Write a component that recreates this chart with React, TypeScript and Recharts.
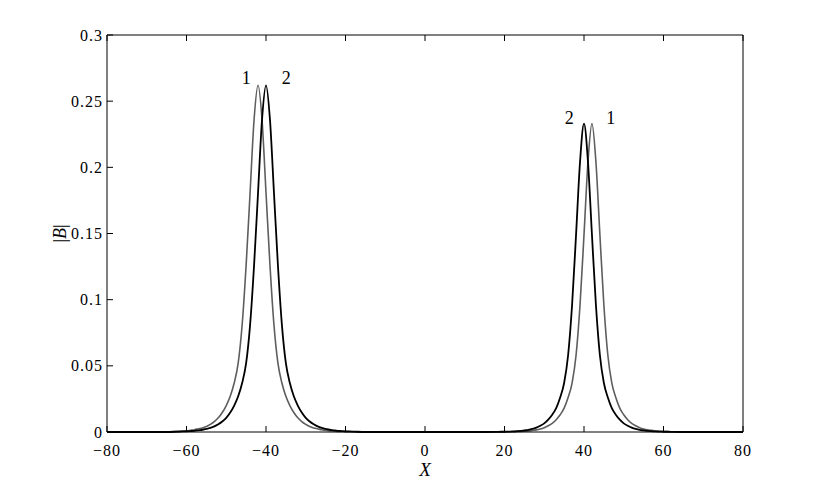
import React from 'react';
import {
  LineChart,
  Line,
  XAxis,
  YAxis,
  ReferenceDot,
} from 'recharts';

// x grid (denser around the four humps)
const xValues = [
  -80, -75, -70, -65,
  -62, -61, -60, -59, -58, -57, -56, -55, -54, -53, -52, -51, -50, -49, -48, -47, -46, -45, -44,
  -43, -42, -41, -40, -39, -38, -37, -36, -35, -34, -33, -32, -31, -30, -29, -28, -27, -26, -25,
  -24, -23, -22, -21, -20, -19, -18,
  -15, -10, -5, 0, 5, 10, 15,
  18, 19, 20, 21, 22, 23, 24, 25, 26, 27, 28, 29, 30, 31, 32, 33, 34, 35, 36, 37, 38, 39, 40,
  41, 42, 43, 44, 45, 46, 47, 48, 49, 50, 51, 52, 53, 54, 55, 56, 57, 58, 59, 60, 61, 62,
  65, 70, 75, 80,
];

// curve 1 (grey)
const curve1 = [
  0, 0, 0, 0,
  0.0005, 0.0007, 0.0009, 0.0013, 0.0017, 0.0024, 0.0031, 0.0042, 0.0058, 0.0079, 0.0107, 0.0147,
  0.020, 0.027, 0.037, 0.052, 0.081, 0.126, 0.181, 0.236, 0.262, 0.236, 0.181, 0.126, 0.081, 0.052,
  0.037, 0.027, 0.020, 0.0147, 0.0107, 0.0079, 0.0058, 0.0042, 0.0031, 0.0024, 0.0017, 0.0013,
  0.0009, 0.0007, 0.0005, 0.0004, 0.0003, 0.0002, 0.0002,
  0, 0, 0, 0, 0, 0, 0,
  0.0001, 0.0001, 0.0001, 0.0002, 0.0002, 0.0003, 0.0004, 0.0006, 0.0008, 0.0012, 0.0016, 0.0023,
  0.0033, 0.0047, 0.0065, 0.0093, 0.013, 0.018, 0.026, 0.037, 0.058, 0.096, 0.149, 0.204, 0.233,
  0.204, 0.149, 0.096, 0.058, 0.037, 0.026, 0.018, 0.013, 0.0093, 0.0065, 0.0047, 0.0033, 0.0023,
  0.0016, 0.0012, 0.0008, 0.0006, 0.0004, 0.0003, 0.0002,
  0, 0, 0, 0,
];

// curve 2 (black)
const curve2 = [
  0, 0, 0, 0,
  0.0003, 0.0004, 0.0005, 0.0007, 0.0009, 0.0013, 0.0017, 0.0024, 0.0031, 0.0042, 0.0058, 0.0079,
  0.0107, 0.0147, 0.020, 0.027, 0.037, 0.052, 0.081, 0.126, 0.181, 0.236, 0.262, 0.236, 0.181,
  0.126, 0.081, 0.052, 0.037, 0.027, 0.020, 0.0147, 0.0107, 0.0079, 0.0058, 0.0042, 0.0031, 0.0024,
  0.0017, 0.0013, 0.0009, 0.0007, 0.0005, 0.0004, 0.0003,
  0, 0, 0, 0, 0, 0, 0,
  0.0001, 0.0002, 0.0002, 0.0003, 0.0004, 0.0006, 0.0008, 0.0012, 0.0016, 0.0023, 0.0033, 0.0047,
  0.0065, 0.0093, 0.013, 0.018, 0.026, 0.037, 0.058, 0.096, 0.149, 0.204, 0.233,
  0.204, 0.149, 0.096, 0.058, 0.037, 0.026, 0.018, 0.013, 0.0093, 0.0065, 0.0047, 0.0033, 0.0023,
  0.0016, 0.0012, 0.0008, 0.0006, 0.0004, 0.0003, 0.0002, 0.0002, 0.0001,
  0, 0, 0, 0,
];

const xTicks = [-80, -60, -40, -20, 0, 20, 40, 60, 80];
const yTicks = [0, 0.05, 0.1, 0.15, 0.2, 0.25, 0.3];

// curve number tags placed next to the peaks
const tagText = ['1', '2', '2', '1'];
const tagX = [-45, -34.9, 36.3, 46.7];
const tagY = [0.2675, 0.2675, 0.2377, 0.2377];

const data = xValues.map((x, i) => ({ x, c1: curve1[i], c2: curve2[i] }));

const FONT = '"Liberation Serif", "DejaVu Serif", serif';
const TICK_LEN = 6;

const fmtX = (v: number) => (v < 0 ? '\u2212' + Math.abs(v) : String(v));

const BottomTick = ({ x, y, payload }: any) => (
  <g>
    <line x1={x} x2={x} y1={y} y2={y - TICK_LEN} stroke="#000" />
    <text x={x} y={y + 24} textAnchor="middle" fontFamily={FONT} fontSize={16} letterSpacing={1} fill="#000">
      {fmtX(payload.value)}
    </text>
  </g>
);

const TopTick = ({ x, y }: any) => (
  <line x1={x} x2={x} y1={y} y2={y + TICK_LEN} stroke="#000" />
);

const LeftTick = ({ x, y, payload }: any) => (
  <g>
    <line x1={x} x2={x + TICK_LEN} y1={y} y2={y} stroke="#000" />
    <text x={x - 4} y={y} dy="0.35em" textAnchor="end" fontFamily={FONT} fontSize={16} letterSpacing={1} fill="#000">
      {payload.value}
    </text>
  </g>
);

const RightTick = ({ x, y }: any) => (
  <line x1={x} x2={x - TICK_LEN} y1={y} y2={y} stroke="#000" />
);

const YTitle = ({ viewBox }: any) => {
  const cx = viewBox.x + 60;
  const cy = viewBox.y + viewBox.height / 2;
  return (
    <text x={cx} y={cy} dy="0.35em" textAnchor="middle" transform={`rotate(-90 ${cx} ${cy})`} fontFamily={FONT} fontSize={18} fill="#000">
      |<tspan fontStyle="italic">B</tspan>|
    </text>
  );
};

const XTitle = ({ viewBox }: any) => (
  <text x={viewBox.x + viewBox.width / 2} y={viewBox.y + 44} textAnchor="middle" fontFamily={FONT} fontSize={19} fontStyle="italic" fill="#000">
    X
  </text>
);

export default function App() {
  return (
    <div style={{ position: 'absolute', left: 0, top: 0, background: '#fff' }}>
      <LineChart width={822} height={488} data={data} margin={{ top: 34, right: 78, bottom: 26, left: 0 }}>
        <XAxis
          xAxisId="bottom"
          dataKey="x"
          type="number"
          domain={[-80, 80]}
          ticks={xTicks}
          height={30}
          tickSize={0}
          tickMargin={0}
          tickLine={false}
          axisLine={{ stroke: '#000' }}
          tick={<BottomTick />}
          interval={0}
          label={<XTitle />}
        />
        <XAxis
          xAxisId="top"
          orientation="top"
          dataKey="x"
          type="number"
          domain={[-80, 80]}
          ticks={xTicks}
          height={1}
          tickSize={0}
          tickMargin={0}
          tickLine={false}
          axisLine={{ stroke: '#000' }}
          tick={<TopTick />}
          interval={0}
        />
        <YAxis
          yAxisId="left"
          type="number"
          domain={[0, 0.3]}
          ticks={yTicks}
          width={107}
          tickSize={0}
          tickMargin={0}
          tickLine={false}
          axisLine={{ stroke: '#000' }}
          tick={<LeftTick />}
          interval={0}
          label={<YTitle />}
        />
        <YAxis
          yAxisId="right"
          orientation="right"
          type="number"
          domain={[0, 0.3]}
          ticks={yTicks}
          width={1}
          tickSize={0}
          tickMargin={0}
          tickLine={false}
          axisLine={{ stroke: '#000' }}
          tick={<RightTick />}
          interval={0}
        />
        <Line
          xAxisId="bottom"
          yAxisId="left"
          type="monotone"
          dataKey="c1"
          stroke="#5e5e5e"
          strokeWidth={1.6}
          dot={false}
          isAnimationActive={false}
        />
        <Line
          xAxisId="bottom"
          yAxisId="left"
          type="monotone"
          dataKey="c2"
          stroke="#000"
          strokeWidth={1.8}
          dot={false}
          isAnimationActive={false}
        />
        {tagText.map((t, i) => (
          <ReferenceDot
            key={i}
            xAxisId="bottom"
            yAxisId="left"
            x={tagX[i]}
            y={tagY[i]}
            r={0}
            fill="none"
            stroke="none"
            label={{ value: t, position: 'center', fill: '#000', fontSize: 18, fontFamily: FONT }}
          />
        ))}
      </LineChart>
    </div>
  );
}
